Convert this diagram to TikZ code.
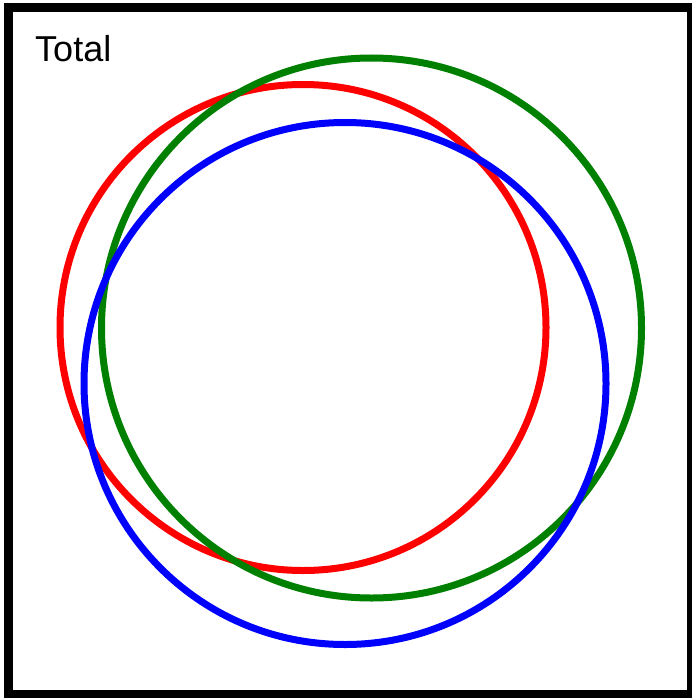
\documentclass[tikz,border=0pt]{standalone}
\usepackage{fontspec}
\setmainfont{Liberation Sans}
\definecolor{ringred}{RGB}{255,0,0}
\definecolor{ringgreen}{RGB}{0,128,0}
\definecolor{ringblue}{RGB}{0,0,255}
\begin{document}
\begin{tikzpicture}[
  x=1pt, y=-1pt,
  frame/.style={draw=black,line width=9pt},
  ring/.style={line width=7pt},
  setlabel/.style={anchor=base west,inner sep=0pt,font=\fontsize{36}{42}\selectfont}
]
  \useasboundingbox (0,0) rectangle (692,698);
  \draw[frame] (8.5,8) rectangle (691,694);
  \node[setlabel] (total) at (35,62) {Total};
  \draw[ring,ringred] (303,327.5) circle[radius=243];
  \draw[ring,ringgreen] (371.5,328) circle[radius=270];
  \draw[ring,ringblue] (345,383.5) circle[radius=261];
\end{tikzpicture}
\end{document}
